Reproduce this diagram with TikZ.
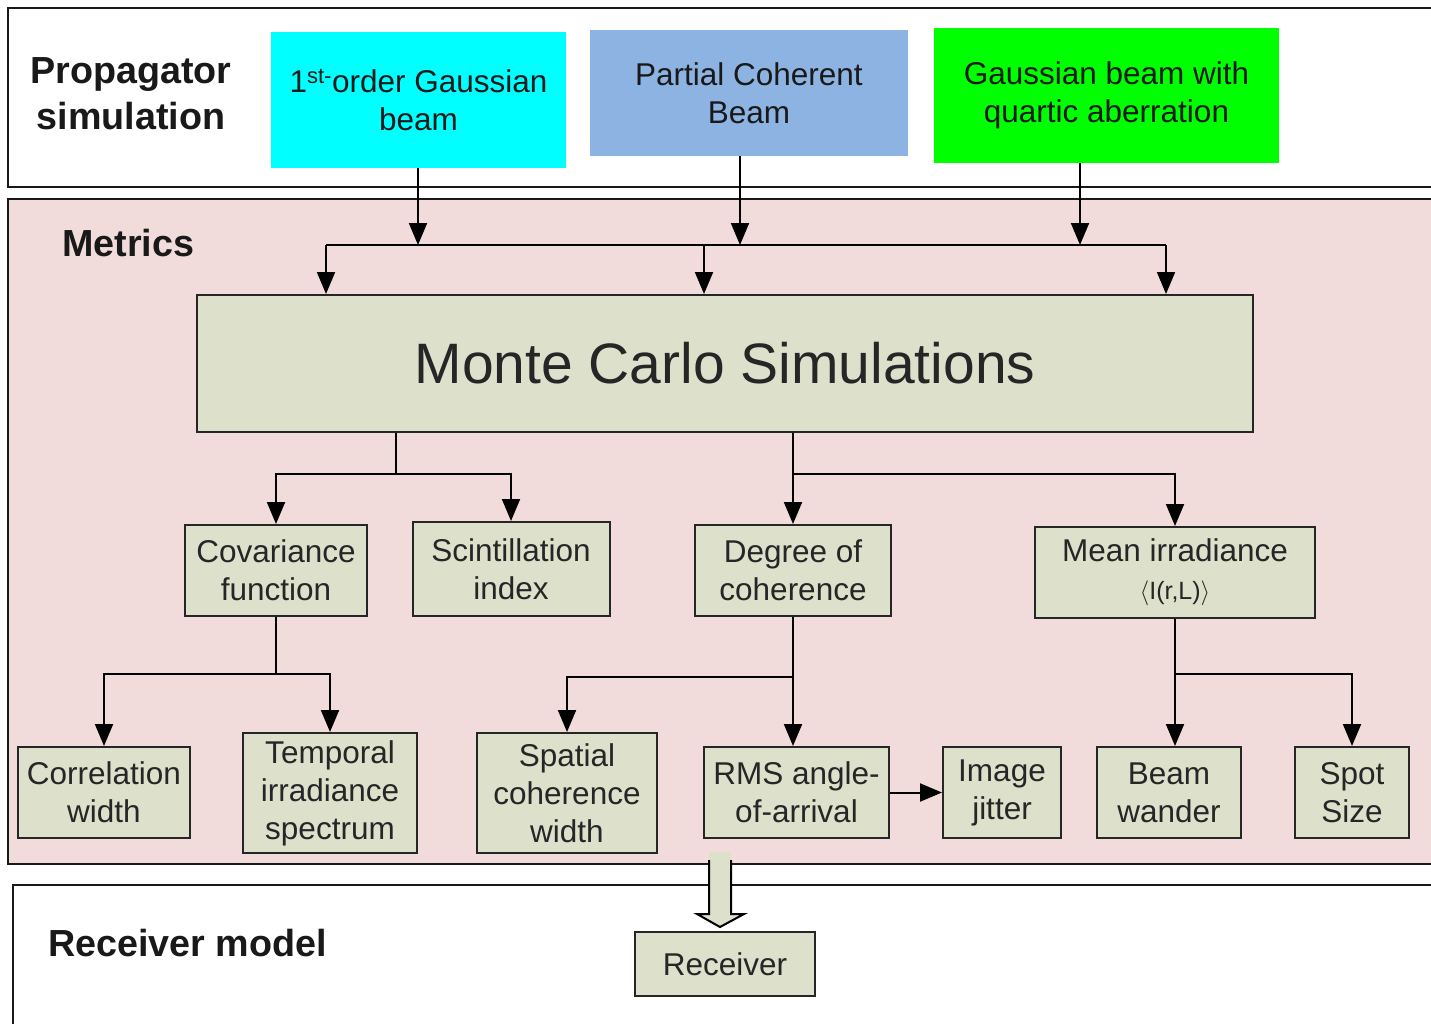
\documentclass[tikz,border=0pt]{standalone}
\usepackage{fontspec}
\setmainfont{Liberation Sans}
\usetikzlibrary{arrows.meta,calc}
\definecolor{pinkbg}{RGB}{242,220,219}
\definecolor{olivebox}{RGB}{221,224,203}
\definecolor{skyblue}{RGB}{141,179,226}
\definecolor{brightgreen}{RGB}{0,255,0}
\definecolor{brightcyan}{RGB}{0,255,255}

\begin{document}
\begin{tikzpicture}[x=1pt,y=-1pt,
  box/.style={draw=black!85, line width=2pt, fill=olivebox, inner sep=0pt,
    align=center, font=\fontsize{31.5}{38}\selectfont, text=black!85},
  src/.style={inner sep=0pt, align=center,
    font=\fontsize{31.5}{38}\selectfont, text=black!90},
  title/.style={font=\fontsize{37.7}{46}\selectfont\bfseries, align=center,
    inner sep=0pt, text=black!90},
  arr/.style={line width=2pt, -{Triangle[length=22pt,width=18pt]}},
  wire/.style={line width=2pt},
  frame/.style={line width=2.5pt, draw=black!90}
]
\useasboundingbox (0,0) rectangle (1431,1023);

% section frames
\fill[pinkbg] (8,199) rectangle (1440,864);
\draw[frame] (1440,8) -- (8,8) -- (8,187) -- (1440,187);
\draw[frame] (1440,199) -- (8,199) -- (8,864) -- (1440,864);
\draw[frame] (1440,885) -- (13,885) -- (13,1030);

% section titles
\node[title] (prop) at (131,94) {Propagator\\simulation};
\node[title, anchor=west] (met) at (62,243) {Metrics};
\node[title, anchor=west] (recm) at (48,943) {Receiver model};

% beam sources
\node[src, fill=brightcyan, minimum width=295, minimum height=136] (g1) at (418.5,100)
  {1\textsuperscript{st-}order Gaussian\\beam};
\node[src, fill=skyblue, minimum width=318, minimum height=126] (g2) at (749,93)
  {Partial Coherent\\Beam};
\node[src, fill=brightgreen, minimum width=345, minimum height=135] (g3) at (1106.5,95.5)
  {Gaussian beam with\\quartic aberration};

% simulation core
\node[box, minimum width=1056, minimum height=137, font=\fontsize{57}{68}\selectfont] (mc)
  at (725,363.5) {Monte Carlo Simulations};

% metrics, first level
\node[box, minimum width=182, minimum height=91] (cov) at (276,570.5) {Covariance\\function};
\node[box, minimum width=197, minimum height=94] (sci) at (511,569) {Scintillation\\index};
\node[box, minimum width=196, minimum height=91] (deg) at (793,570.5) {Degree of\\coherence};
\node[box, minimum width=280, minimum height=91] (mean) at (1175,572.5)
  {Mean irradiance\\{\fontsize{25}{30}\selectfont$\langle$I(r,L)$\rangle$}};

% metrics, second level
\node[box, minimum width=172, minimum height=91] (corr) at (104,792.5) {Correlation\\width};
\node[box, minimum width=174, minimum height=120] (temp) at (330,793) {Temporal\\irradiance\\spectrum};
\node[box, minimum width=180, minimum height=120] (spat) at (567,793) {Spatial\\coherence\\width};
\node[box, minimum width=185, minimum height=91] (rms) at (796.5,792.5) {RMS angle-\\of-arrival};
\node[box, minimum width=118, minimum height=91] (img) at (1002,792.5) {Image\\jitter};
\node[box, minimum width=144, minimum height=91] (beam) at (1169,792.5) {Beam\\wander};
\node[box, minimum width=114, minimum height=91] (spot) at (1352,792.5) {Spot\\Size};

% receiver
\node[box, minimum width=180, minimum height=64] (rcv) at (725,964) {Receiver};

% sources feed a common bus into the simulation
\coordinate (in1) at (418,245);
\coordinate (in2) at (740,245);
\coordinate (in3) at (1080,245);
\coordinate (busL) at (326,245);
\coordinate (busM) at (704,245);
\coordinate (busR) at (1166,245);
\draw[arr] (in1 |- g1.south) -- (in1);
\draw[arr] (in2 |- g2.south) -- (in2);
\draw[arr] (in3 |- g3.south) -- (in3);
\draw[wire] (busL) -- (busR);
\draw[arr] (busL) -- (busL |- mc.north);
\draw[arr] (busM) -- (busM |- mc.north);
\draw[arr] (busR) -- (busR |- mc.north);

% simulation to first-level metrics
\coordinate (jA) at (396,474);
\coordinate (jB) at (793,474);
\draw[wire] (jA |- mc.south) -- (jA);
\draw[arr] (jA) -| (cov.north);
\draw[arr] (jA) -| (sci.north);
\draw[arr] (jB |- mc.south) -- (deg.north);
\draw[arr] (jB) -| (mean.north);

% first-level to second-level metrics
\path (cov.south) ++(0,57) coordinate (jC);
\draw[wire] (cov.south) -- (jC);
\draw[arr] (jC) -| (corr.north);
\draw[arr] (jC) -| (temp.north);

\path (deg.south) ++(0,60) coordinate (jD);
\draw[wire] (deg.south) -- (jD);
\draw[arr] (jD) -| (spat.north);
\draw[arr] (jD) -- (jD |- rms.north);
\draw[arr] (rms.east) -- (img.west);

\path (mean.south) ++(0,55) coordinate (jE);
\draw[wire] (mean.south) -- (jE);
\draw[arr] (jE) -- (jE |- beam.north);
\draw[arr] (jE) -| (spot.north);

% block arrow from metrics to receiver
\coordinate (tip) at ($(rcv.north)+(-5,-4)$);
\fill[olivebox] ($(tip)+(-11,-75)$) -- ($(tip)+(11,-75)$) -- ($(tip)+(11,-13)$)
  -- ($(tip)+(24,-13)$) -- (tip) -- ($(tip)+(-23,-13)$) -- ($(tip)+(-11,-13)$) -- cycle;
\draw[line width=2pt, line join=miter] ($(tip)+(-11,-67)$) -- ($(tip)+(-11,-13)$)
  -- ($(tip)+(-23,-13)$) -- (tip) -- ($(tip)+(24,-13)$) -- ($(tip)+(11,-13)$)
  -- ($(tip)+(11,-67)$);
\end{tikzpicture}
\end{document}
